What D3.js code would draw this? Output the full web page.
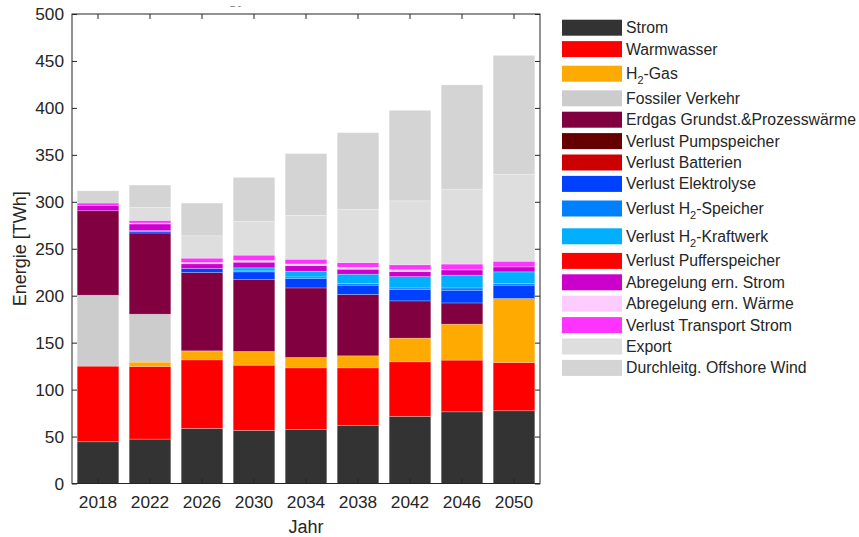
<!DOCTYPE html>
<html>
<head>
<meta charset="utf-8">
<script src="https://cdn.jsdelivr.net/npm/d3@7"></script>
<style>
  body { margin: 0; background: #fff; }
  svg { display: block; font-family: "Liberation Sans", Arial, sans-serif; }
  text { fill: #262626; }
</style>
</head>
<body>
<div id="main"></div>
<script>
// chart data
const years = [2018, 2022, 2026, 2030, 2034, 2038, 2042, 2046, 2050];
const strom = [44.5, 47.3, 58.7, 56.6, 57.6, 61.9, 71.5, 76.4, 77.5];
const warmwasser = [80.5, 77.4, 73.0, 69.4, 65.6, 61.3, 58.1, 55.0, 51.4];
const h2Gas = [0, 4.6, 9.6, 14.6, 11.0, 12.8, 25.2, 38.3, 68.1];
const fossilerVerkehr = [75.5, 51.0, 0, 0, 0, 0, 0, 0, 0];
const erdgas = [90.0, 86.5, 83.4, 76.6, 74.1, 65.3, 39.7, 22.6, 0];
const verlustPumpspeicher = [0, 0, 0, 0, 0, 0, 0, 0, 0];
const verlustBatterien = [0, 0, 0, 0, 0, 0, 0, 0, 0];
const verlustElektrolyse = [0, 1.5, 4.3, 8.2, 9.9, 9.9, 12.0, 13.5, 14.2];
const verlustH2Speicher = [0, 1.0, 0, 1.0, 1.8, 1.8, 1.8, 2.5, 1.8];
const verlustH2Kraftwerk = [0, 0, 0, 3.3, 6.0, 9.9, 12.0, 13.5, 12.4];
const verlustPufferspeicher = [0, 0, 0, 0, 0, 0, 0, 0, 0];
const abregelungStrom = [5.7, 7.1, 5.0, 6.0, 6.0, 5.3, 5.3, 5.7, 5.3];
const abregelungWaerme = [0, 1.0, 1.4, 1.8, 1.8, 2.1, 2.1, 0.5, 0];
const verlustTransport = [2.5, 2.8, 4.6, 5.7, 5.0, 5.0, 5.3, 5.7, 6.0];
const exportStrom = [0, 13.8, 23.8, 35.8, 46.8, 56.7, 68.0, 79.8, 92.6];
const durchleitung = [13.0, 23.8, 34.8, 47.0, 65.7, 81.6, 96.4, 111.0, 126.6];

// legend labels (sub = subscript "2" after the given prefix)
const seriesLabels = [
  { pre: 'Strom' }, { pre: 'Warmwasser' }, { pre: 'H', sub: '2', post: '-Gas' },
  { pre: 'Fossiler Verkehr' }, { pre: 'Erdgas Grundst.&Prozesswärme' },
  { pre: 'Verlust Pumpspeicher' }, { pre: 'Verlust Batterien' },
  { pre: 'Verlust Elektrolyse' }, { pre: 'Verlust H', sub: '2', post: '-Speicher' },
  { pre: 'Verlust H', sub: '2', post: '-Kraftwerk' }, { pre: 'Verlust Pufferspeicher' },
  { pre: 'Abregelung ern. Strom' }, { pre: 'Abregelung ern. Wärme' },
  { pre: 'Verlust Transport Strom' }, { pre: 'Export' }, { pre: 'Durchleitg. Offshore Wind' }
];
const seriesColors = [
  '#333333', '#ff0000', '#ffaa00', '#cccccc', '#800040', '#660000', '#cc0000',
  '#0040ff', '#0080ff', '#00b0ff', '#ff0000', '#cc00cc', '#ffccff', '#ff33ff',
  '#dedede', '#d4d4d4'
];
const seriesValues = [
  strom, warmwasser, h2Gas, fossilerVerkehr, erdgas, verlustPumpspeicher,
  verlustBatterien, verlustElektrolyse, verlustH2Speicher, verlustH2Kraftwerk,
  verlustPufferspeicher, abregelungStrom, abregelungWaerme, verlustTransport,
  exportStrom, durchleitung
];
const yTicks = [0, 50, 100, 150, 200, 250, 300, 350, 400, 450, 500];

function main() {
  const W = 859, H = 537;
  const m = { left: 72, top: 14, right: 319, bottom: 53.5 };
  const iw = W - m.left - m.right;
  const ih = H - m.top - m.bottom;

  const svg = d3.select('#main').append('svg')
    .attr('width', W).attr('height', H);

  // title is cut off at the top edge in the reference: only descenders show
  svg.append('clipPath').attr('id', 'titleClip')
    .append('rect').attr('x', 0).attr('y', 6.5).attr('width', W).attr('height', 10);
  svg.append('text')
    .attr('clip-path', 'url(#titleClip)')
    .attr('x', 246).attr('y', 4)
    .attr('text-anchor', 'end')
    .style('font-size', '17px')
    .text('Energy');

  const g = svg.append('g').attr('transform', `translate(${m.left},${m.top})`);

  // table of rows, one per year
  const keys = seriesValues.map((_, i) => `s${i}`);
  const table = years.map((yr, j) => {
    const row = { year: yr };
    seriesValues.forEach((arr, i) => { row[keys[i]] = arr[j]; });
    return row;
  });

  const x = d3.scaleBand()
    .domain(years)
    .range([0, iw])
    .paddingInner(0.2)
    .paddingOuter(0.1);
  const y = d3.scaleLinear().domain([0, 500]).range([ih, 0]);

  const stacked = d3.stack().keys(keys)(table);

  g.selectAll('g.layer')
    .data(stacked)
    .enter()
    .append('g')
    .attr('class', 'layer')
    .attr('fill', (d, i) => seriesColors[i])
    .selectAll('rect')
    .data(d => d.filter(v => v[1] - v[0] > 0))
    .enter()
    .append('rect')
    .attr('x', d => x(d.data.year))
    .attr('width', x.bandwidth())
    .attr('y', d => y(d[1]))
    .attr('height', d => y(d[0]) - y(d[1]))
    .attr('stroke', 'rgba(255,255,255,0.3)')
    .attr('stroke-width', 0.8);

  // axes with inward ticks, mirrored on top and right (box style)
  const tickLen = 5;
  const axisStyle = sel => {
    sel.select('.domain').remove();
    sel.selectAll('line').attr('stroke', '#262626');
    sel.selectAll('text').style('font-size', '17.3px').attr('fill', '#262626');
  };
  g.append('g')
    .attr('transform', `translate(0,${ih})`)
    .call(d3.axisBottom(x).tickSizeInner(-tickLen).tickSizeOuter(0).tickPadding(12))
    .call(axisStyle);
  g.append('g')
    .call(d3.axisTop(x).tickSizeInner(-tickLen).tickSizeOuter(0).tickFormat(''))
    .call(axisStyle);
  g.append('g')
    .call(d3.axisLeft(y).tickValues(yTicks).tickSizeInner(-tickLen).tickSizeOuter(0).tickPadding(8))
    .call(axisStyle);
  g.append('g')
    .attr('transform', `translate(${iw},0)`)
    .call(d3.axisRight(y).tickValues(yTicks).tickSizeInner(-tickLen).tickSizeOuter(0).tickFormat(''))
    .call(axisStyle);
  g.append('rect')
    .attr('width', iw).attr('height', ih)
    .attr('fill', 'none')
    .attr('stroke', '#262626')
    .attr('stroke-width', 1);

  // axis titles
  svg.append('text')
    .attr('x', m.left + iw / 2).attr('y', 533)
    .attr('text-anchor', 'middle')
    .style('font-size', '18px')
    .text('Jahr');
  svg.append('text')
    .attr('transform', `translate(26,${m.top + ih / 2}) rotate(-90)`)
    .attr('text-anchor', 'middle')
    .style('font-size', '18px')
    .text('Energie [TWh]');

  // legend
  const legend = svg.append('g').attr('transform', 'translate(562,0)');
  let ly = 27.7;
  seriesLabels.forEach((lab, i) => {
    if (i > 0) {
      ly += 21.4 + (lab.sub ? 3.2 : 0) + (seriesLabels[i - 1].sub ? 3.2 : 0);
    }
    const row = legend.append('g').attr('transform', `translate(0,${ly})`);
    row.append('rect')
      .attr('x', 0).attr('y', -8)
      .attr('width', 60).attr('height', 16)
      .attr('fill', seriesColors[i]);
    const t = row.append('text')
      .attr('x', 64).attr('y', 5.5)
      .style('font-size', '15.8px');
    t.append('tspan').text(lab.pre);
    if (lab.sub) {
      t.append('tspan').attr('dy', 5).style('font-size', '11px').text(lab.sub);
      t.append('tspan').attr('dy', -5).text(lab.post);
    }
  });
}
document.addEventListener('DOMContentLoaded', main);
</script>
</body>
</html>
